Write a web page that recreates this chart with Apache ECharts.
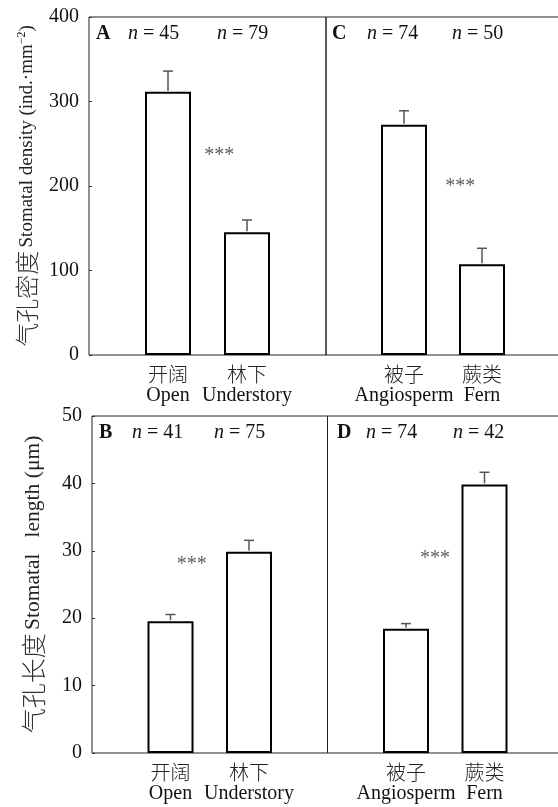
<!DOCTYPE html>
<html>
<head>
<meta charset="utf-8">
<script src="https://cdn.jsdelivr.net/npm/echarts@6/dist/echarts.min.js"></script>
<style>html,body{margin:0;padding:0;background:#fff;}#c{width:558px;height:807px;}</style>
</head>
<body>
<div id="c"></div>
<script>
// ---- data ----
const habitatCategories = [['开阔', 'Open'], ['林下', 'Understory']];
const taxonCategories = [['被子', 'Angiosperm'], ['蕨类', 'Fern']];
const densityHabitat = [311.5, 145.2];
const densityHabitatSE = [24.5, 14.6];
const densityTaxon = [272.5, 107.3];
const densityTaxonSE = [16.5, 19];
const lengthHabitat = [19.55, 29.85];
const lengthHabitatSE = [1.0, 1.7];
const lengthTaxon = [18.45, 39.85];
const lengthTaxonSE = [0.75, 1.8];
const nDensityHabitat = [45, 79];
const nDensityTaxon = [74, 50];
const nLengthHabitat = [41, 75];
const nLengthTaxon = [74, 42];
const densityTicks = [0, 100, 200, 300, 400];
const lengthTicks = [0, 10, 20, 30, 40, 50];
const sigPos = [[1.65, 236], [1.72, 199], [1.27, 28.0], [1.37, 28.8]];
const sigText = '***';

const SERIF = '"Liberation Serif", "Times New Roman", "Noto Sans CJK SC", serif';
const CJK = '"Noto Sans CJK SC", sans-serif';
const chart = echarts.init(document.getElementById('c'), null, {renderer: 'canvas'});

const grids = [
  {left: 89, top: 17, width: 237, height: 338},
  {left: 326, top: 17, width: 234, height: 338},
  {left: 92, top: 416, width: 235.5, height: 337},
  {left: 327.5, top: 416, width: 235.5, height: 337}
];
const panels = [
  {cats: habitatCategories, vals: densityHabitat, se: densityHabitatSE, ticks: densityTicks},
  {cats: taxonCategories, vals: densityTaxon, se: densityTaxonSE, ticks: densityTicks},
  {cats: habitatCategories, vals: lengthHabitat, se: lengthHabitatSE, ticks: lengthTicks},
  {cats: taxonCategories, vals: lengthTaxon, se: lengthTaxonSE, ticks: lengthTicks}
];

const xAxes = panels.map((p, i) => ({
  type: 'value', gridIndex: i, min: 0, max: 3, interval: 1,
  axisLine: {show: false}, axisTick: {show: false}, splitLine: {show: false},
  axisLabel: {
    show: true, showMinLabel: true, showMaxLabel: true,
    formatter: v => {
      const c = v === 1 ? p.cats[0] : v === 2 ? p.cats[1] : null;
      return c ? '{c|' + c[0] + '}\n{e|' + c[1] + '}' : '';
    },
    margin: 9,
    rich: {
      c: {fontFamily: CJK, fontWeight: 300, fontSize: 20, lineHeight: 21, color: '#222'},
      e: {fontFamily: SERIF, fontSize: 20, lineHeight: 21, color: '#111'}
    }
  }
}));

const yAxes = panels.map((p, i) => {
  const first = (i === 0 || i === 2);
  const t = p.ticks;
  const ax = {
    type: 'value', gridIndex: i, min: t[0], max: t[t.length - 1], interval: t[1] - t[0],
    axisLine: {show: false}, splitLine: {show: false},
    axisTick: {show: first, inside: true, length: 3, lineStyle: {color: '#333'}},
    axisLabel: {show: first, fontFamily: SERIF, fontSize: 20, color: '#111', margin: 10}
  };
  if (i === 0) {
    ax.name = '{c|气孔密度} {a|Stomatal density (ind.·mm}{s|−2}{a|)}';
    ax.nameLocation = 'middle'; ax.nameGap = 50;
    ax.nameTextStyle = {rich: {
      c: {fontFamily: CJK, fontWeight: 300, fontSize: 24, color: '#333'},
      a: {fontFamily: SERIF, fontSize: 19, color: '#222'},
      s: {fontFamily: SERIF, fontSize: 12, color: '#222', padding: [0, 0, 10, 0]}
    }};
  }
  if (i === 2) {
    ax.name = '{c|气孔长度} {a|Stomatal   length (μm)}';
    ax.nameLocation = 'middle'; ax.nameGap = 46;
    ax.nameTextStyle = {padding: [0, 0, 0, 0], rich: {
      c: {fontFamily: CJK, fontWeight: 300, fontSize: 25, color: '#333'},
      a: {fontFamily: SERIF, fontSize: 21.5, color: '#222'}
    }};
  }
  return ax;
});

const series = [];
panels.forEach((p, i) => {
  series.push({
    type: 'bar', xAxisIndex: i, yAxisIndex: i, barWidth: 46,
    data: p.vals.map((v, k) => [k + 1, v]),
    itemStyle: {color: '#fff', borderColor: '#000', borderWidth: 2},
    silent: true
  });
  series.push({
    type: 'custom', xAxisIndex: i, yAxisIndex: i, silent: true,
    data: p.vals.map((v, k) => [k + 1, v, v + p.se[k]]),
    renderItem: (params, api) => {
      const lo = api.coord([api.value(0), api.value(1)]);
      const hi = api.coord([api.value(0), api.value(2)]);
      const st = {stroke: '#555', lineWidth: 1.5};
      return {type: 'group', children: [
        {type: 'line', shape: {x1: lo[0], y1: lo[1] - 1, x2: hi[0], y2: hi[1]}, style: st},
        {type: 'line', shape: {x1: hi[0] - 5, y1: hi[1], x2: hi[0] + 5, y2: hi[1]}, style: st}
      ]};
    }
  });
  series.push({
    type: 'scatter', xAxisIndex: i, yAxisIndex: i, symbolSize: 0, silent: true,
    data: [sigPos[i]],
    label: {show: true, position: 'inside', formatter: sigText, fontFamily: SERIF, fontSize: 20, color: '#333'}
  });
});

const gridDefs = grids.map(g => Object.assign({show: true, borderColor: '#222', borderWidth: 1, backgroundColor: 'transparent', outerBoundsMode: 'none', containLabel: false}, g));

const nStyle = {i: {fontFamily: SERIF, fontSize: 20, fontStyle: 'italic', fill: '#111'}, r: {fontFamily: SERIF, fontSize: 20, fill: '#111'}};
function nText(x, y, n) {
  return {type: 'text', x: x, y: y, style: {text: '{i|n}{r| = ' + n + '}', rich: nStyle, verticalAlign: 'middle', align: 'left'}};
}
function letter(x, y, s) {
  return {type: 'text', x: x, y: y, style: {text: s, font: 'bold 20px ' + SERIF, fill: '#111', verticalAlign: 'middle', align: 'left'}};
}
const graphic = [
  letter(96, 34, 'A'), nText(128, 34, nDensityHabitat[0]), nText(217, 34, nDensityHabitat[1]),
  letter(332, 34, 'C'), nText(367, 34, nDensityTaxon[0]), nText(452, 34, nDensityTaxon[1]),
  letter(99, 433, 'B'), nText(132, 433, nLengthHabitat[0]), nText(214, 433, nLengthHabitat[1]),
  letter(337, 433, 'D'), nText(366, 433, nLengthTaxon[0]), nText(453, 433, nLengthTaxon[1])
];

chart.setOption({
  animation: false,
  backgroundColor: '#fff',
  grid: gridDefs,
  xAxis: xAxes,
  yAxis: yAxes,
  series: series,
  graphic: graphic
});
</script>
</body>
</html>
